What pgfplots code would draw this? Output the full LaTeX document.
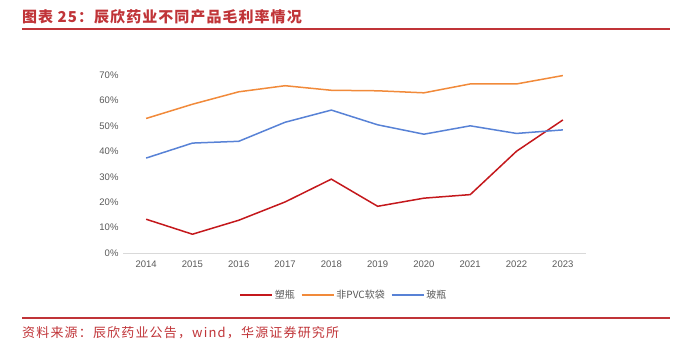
\documentclass[border=0pt]{standalone}
\usepackage{pgfplots}
\pgfplotsset{compat=1.18}
\usepackage{fontspec}
\setmainfont{Liberation Sans}
\newfontfamily\cjk{Noto Sans CJK SC}
\newfontfamily\cjktitle[LetterSpace=7]{Noto Sans CJK SC}
\newfontfamily\cjksrc[LetterSpace=9]{Noto Sans CJK SC}
\definecolor{cred}{RGB}{196,24,28}
\definecolor{corange}{RGB}{241,138,58}
\definecolor{cblue}{RGB}{88,130,214}
\definecolor{ctitle}{RGB}{192,52,56}
\definecolor{cgray}{RGB}{89,89,89}
\begin{document}
\begin{tikzpicture}[x=1pt,y=1pt]
\path (0,0) rectangle (690,350);
\node[anchor=west,inner sep=0pt,text=ctitle,font=\cjktitle\bfseries\fontsize{15}{17}\selectfont] at (22,333) {图表 25：辰欣药业不同产品毛利率情况};
\draw[ctitle,line width=1.4pt] (22,321) -- (670,321);
\draw[ctitle,line width=1.4pt] (22,32) -- (670,32);
\node[anchor=west,inner sep=0pt,text=ctitle,font=\cjksrc\fontsize{13}{15}\selectfont] at (22,17) {资料来源：辰欣药业公告，wind，华源证券研究所};
\begin{axis}[
  at={(123pt,97pt)}, anchor=south west,
  scale only axis, width=463pt, height=177.7pt,
  xmin=2013.5, xmax=2023.5, ymin=0, ymax=70,
  xtick={2014,...,2023}, ytick={0,10,...,70},
  yticklabel={\pgfmathprintnumber{\tick}\%},
  /pgf/number format/1000 sep={},
  /pgf/number format/assume math mode=true,
  axis x line*=bottom, axis y line*=left,
  x axis line style={draw=black!15,line width=0.8pt,-},
  y axis line style={draw=none},
  major tick length=0pt,
  tick label style={font=\fontsize{9.5}{11}\selectfont,text=cgray},
  xticklabel style={yshift=-4pt},
  yticklabel style={xshift=-1pt},
  clip=false,
  legend columns=3,
  legend style={at={(0.477,-0.236)},anchor=center,draw=none,fill=none,
    font=\cjk\fontsize{10}{12}\selectfont,text=cgray,
    /tikz/every even column/.append style={column sep=4pt}},
  legend image code/.code={\draw[#1,line width=1.5pt] (0pt,0pt) -- (32pt,0pt);},
  every axis plot/.append style={line width=1.5pt, mark=none},
]
\addplot[cred] coordinates {(2014,13.3)(2015,7.4)(2016,12.9)(2017,20.1)(2018,29.1)(2019,18.4)(2020,21.6)(2021,23.0)(2022,40.1)(2023,52.4)};
\addlegendentry{塑瓶}
\addplot[corange] coordinates {(2014,53.0)(2015,58.6)(2016,63.5)(2017,65.9)(2018,64.1)(2019,63.9)(2020,63.1)(2021,66.6)(2022,66.6)(2023,69.9)};
\addlegendentry{非PVC软袋}
\addplot[cblue] coordinates {(2014,37.4)(2015,43.3)(2016,44.0)(2017,51.5)(2018,56.3)(2019,50.5)(2020,46.8)(2021,50.1)(2022,47.1)(2023,48.5)};
\addlegendentry{玻瓶}
\end{axis}
\end{tikzpicture}
\end{document}
